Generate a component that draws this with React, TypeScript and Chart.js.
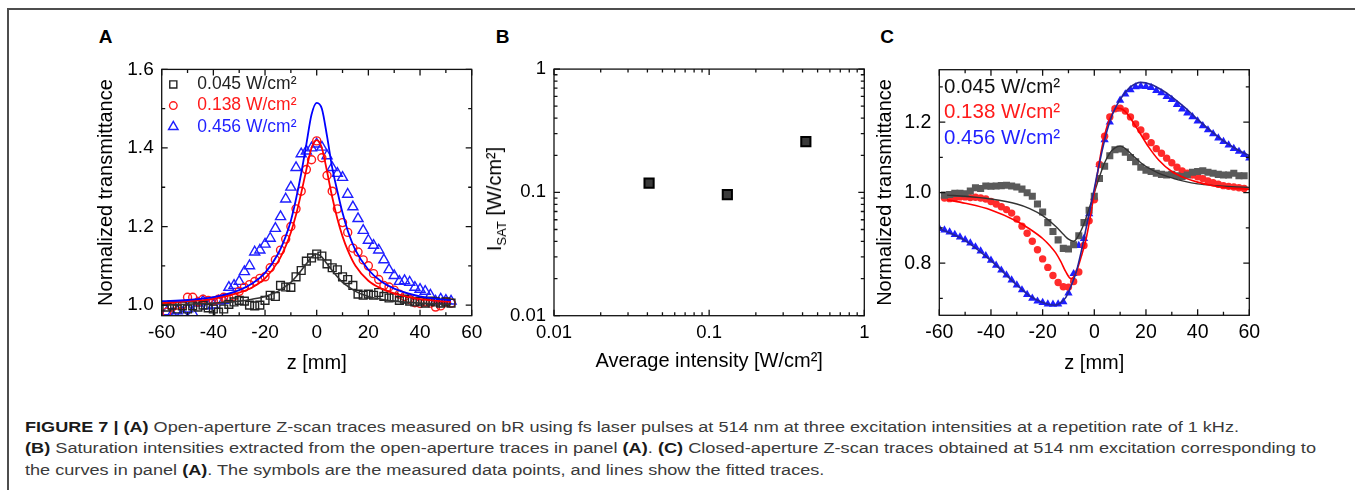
import React, { useEffect, useLayoutEffect, useRef } from "react";
import { Chart, registerables } from "chart.js";

Chart.register(...registerables);

const FONT = "'Liberation Sans', Arial, Helvetica, sans-serif";

// ---------------- Panel A : open-aperture ----------------
const A_LEGEND = ["0.045 W/cm²", "0.138 W/cm²", "0.456 W/cm²"];
const A_X_TICKS = [-60, -40, -20, 0, 20, 40, 60];
const A_X_MINOR = [-50, -30, -10, 10, 30, 50];
const A_Y_TICKS = [1.0, 1.2, 1.4, 1.6];
const A_Y_MINOR = [1.1, 1.3, 1.5];
const A_Z = [-58, -56, -54, -52, -50, -48, -46, -44, -42, -40, -38, -36, -34, -32, -30, -28, -26, -24, -22, -20, -18, -16, -14, -12, -10, -8, -6, -4, -2, 0, 2, 4, 6, 8, 10, 12, 14, 16, 18, 20, 22, 24, 26, 28, 30, 32, 34, 36, 38, 40, 42, 44, 46, 48, 50, 52];
const A_BLACK = [0.995, 1.0, 0.99, 0.998, 0.99, 0.998, 0.995, 1.0, 0.993, 0.99, 0.982, 0.99, 1.002, 1.008, 1.012, 1.01, 1.0, 0.998, 1.0, 1.012, 1.025, 1.022, 1.05, 1.046, 1.045, 1.072, 1.088, 1.112, 1.12, 1.13, 1.125, 1.105, 1.095, 1.09, 1.072, 1.065, 1.05, 1.028, 1.025, 1.028, 1.025, 1.032, 1.022, 1.018, 1.02, 1.012, 1.015, 1.01, 1.008, 1.01, 1.005, 1.01, 1.008, 1.005, 1.008, 1.005];
const A_RED = [0.982, 0.995, 1.0, 1.0, 1.02, 1.02, 1.008, 1.015, 1.012, 1.01, 1.015, 1.02, 1.018, 1.022, 1.035, 1.045, 1.052, 1.06, 1.068, 1.072, 1.095, 1.115, 1.14, 1.168, 1.2, 1.245, 1.29, 1.345, 1.37, 1.418, 1.375, 1.33, 1.29, 1.245, 1.21, 1.185, 1.145, 1.135, 1.115, 1.1, 1.08, 1.065, 1.05, 1.046, 1.038, 1.028, 1.022, 1.015, 1.006, 1.004, 1.008, 1.005, 0.995, 0.998, 1.008, 1.005];
const A_BLUE = [0.983, 0.978, 0.985, 0.98, 0.99, 0.98, 1.005, 1.01, 0.998, 1.0, 1.01, 1.012, 1.045, 1.05, 1.06, 1.085, 1.1, 1.135, 1.14, 1.155, 1.17, 1.195, 1.225, 1.27, 1.3, 1.35, 1.385, 1.392, 1.4, 1.41, 1.402, 1.38, 1.35, 1.335, 1.325, 1.282, 1.25, 1.22, 1.19, 1.165, 1.152, 1.14, 1.115, 1.09, 1.075, 1.06, 1.062, 1.058, 1.045, 1.04, 1.035, 1.025, 1.01, 1.015, 1.012, 1.01];
const A_FIT_Z = [-60, -50, -40, -30, -25, -20, -15, -12, -10, -8, -6, -4, -2, 0, 2, 4, 6, 8, 10, 12, 15, 20, 25, 30, 40, 52];
const A_FIT_BLACK = [1.0, 1.002, 1.005, 1.01, 1.015, 1.022, 1.035, 1.048, 1.058, 1.072, 1.088, 1.105, 1.122, 1.13, 1.122, 1.105, 1.088, 1.072, 1.058, 1.048, 1.035, 1.022, 1.015, 1.01, 1.005, 1.002];
const A_FIT_RED = [1.005, 1.01, 1.016, 1.032, 1.045, 1.068, 1.11, 1.15, 1.185, 1.23, 1.285, 1.345, 1.4, 1.42, 1.4, 1.34, 1.275, 1.22, 1.175, 1.14, 1.1, 1.062, 1.042, 1.03, 1.015, 1.008];
const A_FIT_BLUE = [1.01, 1.013, 1.02, 1.038, 1.055, 1.082, 1.13, 1.175, 1.215, 1.27, 1.335, 1.41, 1.485, 1.515, 1.5, 1.43, 1.35, 1.29, 1.235, 1.19, 1.14, 1.09, 1.06, 1.042, 1.022, 1.012];

// ---------------- Panel B : saturation intensities ----------------
const B_TICKS = [0.01, 0.1, 1];
const B_MINOR = [0.02, 0.03, 0.04, 0.05, 0.06, 0.07, 0.08, 0.09, 0.2, 0.3, 0.4, 0.5, 0.6, 0.7, 0.8, 0.9];
const B_INTENSITY = [0.041, 0.131, 0.42];
const B_ISAT = [0.119, 0.096, 0.258];

// ---------------- Panel C : closed-aperture ----------------
const C_LEGEND = ["0.045 W/cm²", "0.138 W/cm²", "0.456 W/cm²"];
const C_X_TICKS = [-60, -40, -20, 0, 20, 40, 60];
const C_X_MINOR = [-50, -30, -10, 10, 30, 50];
const C_Y_TICKS = [0.8, 1.0, 1.2];
const C_Y_MINOR = [0.7, 0.9, 1.1, 1.3];
const C_Z = [-58, -56, -54, -52, -50, -48, -46, -44, -42, -40, -38, -36, -34, -32, -30, -28, -26, -24, -22, -20, -18, -16, -14, -12, -10, -8, -6, -4, -2, 0, 2, 4, 6, 8, 10, 12, 14, 16, 18, 20, 22, 24, 26, 28, 30, 32, 34, 36, 38, 40, 42, 44, 46, 48, 50, 52, 54, 56, 58];
const C_GRAY = [0.993, 0.995, 0.998, 0.998, 0.997, 1.005, 1.014, 1.012, 1.019, 1.018, 1.019, 1.02, 1.021, 1.019, 1.016, 1.01, 1.0, 0.99, 0.968, 0.945, 0.915, 0.89, 0.866, 0.842, 0.84, 0.852, 0.878, 0.915, 0.95, 0.99, 1.04, 1.075, 1.105, 1.122, 1.124, 1.115, 1.1, 1.088, 1.072, 1.064, 1.06, 1.055, 1.052, 1.05, 1.052, 1.048, 1.046, 1.05, 1.058, 1.06, 1.062, 1.058, 1.055, 1.052, 1.05, 1.05, 1.055, 1.048, 1.048];
const C_RED = [0.985, 0.983, 0.985, 0.988, 0.988, 0.986, 0.987, 0.985, 0.982, 0.975, 0.968, 0.96, 0.952, 0.942, 0.925, 0.905, 0.885, 0.862, 0.838, 0.812, 0.788, 0.765, 0.745, 0.733, 0.732, 0.748, 0.775, 0.85, 0.92, 0.98, 1.08, 1.16, 1.215, 1.238, 1.24, 1.232, 1.215, 1.195, 1.178, 1.16, 1.142, 1.125, 1.112, 1.098, 1.085, 1.072, 1.062, 1.055, 1.05, 1.045, 1.04, 1.033, 1.028, 1.024, 1.02, 1.018, 1.016, 1.014, 1.012];
const C_BZ = [-60, -58, -56, -54, -52, -50, -48, -46, -44, -42, -40, -38, -36, -34, -32, -30, -28, -26, -24, -22, -20, -18, -16, -14, -12, -10, -8, -6, -4, -2, 0, 2, 4, 6, 8, 10, 12, 14, 16, 18, 20, 22, 24, 26, 28, 30, 32, 34, 36, 38, 40, 42, 44, 46, 48, 50, 52, 54, 56, 58, 60];
const C_BLUE = [0.898, 0.894, 0.888, 0.881, 0.874, 0.866, 0.857, 0.846, 0.834, 0.821, 0.808, 0.794, 0.78, 0.766, 0.752, 0.738, 0.724, 0.711, 0.7, 0.692, 0.688, 0.684, 0.683, 0.684, 0.69, 0.715, 0.77, 0.85, 0.87, 0.94, 0.985, 1.08, 1.15, 1.2, 1.237, 1.262, 1.28, 1.292, 1.3, 1.302, 1.301, 1.298, 1.29, 1.283, 1.273, 1.264, 1.25, 1.237, 1.226, 1.215, 1.203, 1.19, 1.178, 1.167, 1.155, 1.145, 1.135, 1.125, 1.117, 1.108, 1.098];
const C_FIT_BLACK_Z = [-57, -50, -40, -30, -25, -20, -15, -12, -10, -8, -6, -4, -2, 0, 2, 4, 6, 8, 10, 12, 15, 18, 21, 25, 30, 35, 40, 47, 53, 60];
const C_FIT_BLACK = [0.993, 0.99, 0.982, 0.968, 0.955, 0.935, 0.905, 0.882, 0.868, 0.862, 0.88, 0.912, 0.955, 1.0, 1.045, 1.085, 1.112, 1.127, 1.132, 1.125, 1.105, 1.085, 1.07, 1.055, 1.042, 1.032, 1.025, 1.02, 1.017, 1.015];
const C_FIT_RED_Z = [-57, -50, -40, -30, -25, -20, -17, -15, -13, -11, -9, -7, -5, -3, -1, 1, 3, 5, 7, 9, 11, 13, 15, 18, 21, 25, 30, 35, 40, 47, 53, 60];
const C_FIT_RED = [0.98, 0.97, 0.951, 0.919, 0.897, 0.87, 0.848, 0.83, 0.805, 0.775, 0.756, 0.775, 0.82, 0.875, 0.955, 1.045, 1.13, 1.19, 1.225, 1.24, 1.236, 1.222, 1.2, 1.165, 1.13, 1.092, 1.06, 1.042, 1.03, 1.018, 1.013, 1.01];
const C_FIT_BLUE_Z = [-60, -50, -40, -30, -25, -20, -17, -15, -13, -11, -9, -7, -5, -3, -1, 1, 3, 5, 7, 9, 11, 14, 18, 22, 26, 30, 35, 40, 45, 50, 55, 60];
const C_FIT_BLUE = [0.898, 0.864, 0.807, 0.738, 0.707, 0.688, 0.682, 0.681, 0.688, 0.703, 0.735, 0.775, 0.835, 0.905, 0.975, 1.048, 1.118, 1.178, 1.222, 1.252, 1.275, 1.3, 1.313, 1.307, 1.292, 1.272, 1.242, 1.208, 1.176, 1.147, 1.124, 1.105];

// ---------------- helpers ----------------
type Box = { left: number; top: number; width: number; height: number };
type Area = { left: number; top: number; right: number; bottom: number };

const pts = (xs: number[], ys: number[]) => xs.map((x, i) => ({ x, y: ys[i] }));

function drawMarker(ctx: CanvasRenderingContext2D, style: string, x: number, y: number, r: number) {
  ctx.beginPath();
  if (style === "rect") {
    const s = r * Math.SQRT1_2;
    ctx.rect(x - s, y - s, 2 * s, 2 * s);
  } else if (style === "circle") {
    ctx.arc(x, y, r, 0, Math.PI * 2);
  } else {
    let a = 0;
    ctx.moveTo(x + Math.sin(a) * r, y - Math.cos(a) * r);
    a += (2 * Math.PI) / 3;
    ctx.lineTo(x + Math.sin(a) * r, y - Math.cos(a) * r);
    a += (2 * Math.PI) / 3;
    ctx.lineTo(x + Math.sin(a) * r, y - Math.cos(a) * r);
    ctx.closePath();
  }
}

function framePlugin(xMinor: number[], yMinor: number[]) {
  return {
    id: "frameTicks",
    afterDraw(chart: any) {
      const { ctx, chartArea: a, scales } = chart;
      const xs = scales.x;
      const ys = scales.y;
      ctx.save();
      ctx.strokeStyle = "#111";
      ctx.lineWidth = 1.3;
      ctx.beginPath();
      const xt = (v: number, len: number) => {
        const p = xs.getPixelForValue(v);
        ctx.moveTo(p, a.bottom);
        ctx.lineTo(p, a.bottom - len);
        ctx.moveTo(p, a.top);
        ctx.lineTo(p, a.top + len);
      };
      const yt = (v: number, len: number) => {
        const p = ys.getPixelForValue(v);
        ctx.moveTo(a.left, p);
        ctx.lineTo(a.left + len, p);
        ctx.moveTo(a.right, p);
        ctx.lineTo(a.right - len, p);
      };
      xs.ticks.forEach((t: any) => xt(t.value, 6));
      xMinor.forEach((v) => xt(v, 3.5));
      ys.ticks.forEach((t: any) => yt(t.value, 6));
      yMinor.forEach((v) => yt(v, 3.5));
      ctx.stroke();
      ctx.strokeRect(a.left, a.top, a.right - a.left, a.bottom - a.top);
      ctx.restore();
    },
  };
}

type LegendItem = { label: string; color: string; marker?: string; r?: number };
function legendPlugin(items: LegendItem[], o: { mx: number; tx: number; y0: number; dy: number; size: number }) {
  return {
    id: "inLegend",
    afterDraw(chart: any) {
      const { ctx, chartArea: a } = chart;
      ctx.save();
      ctx.font = `${o.size}px ${FONT}`;
      ctx.textBaseline = "middle";
      ctx.textAlign = "left";
      items.forEach((it, i) => {
        const y = a.top + o.y0 + i * o.dy;
        if (it.marker) {
          ctx.strokeStyle = it.color;
          ctx.lineWidth = 1.4;
          drawMarker(ctx, it.marker, a.left + o.mx, y, it.r || 4);
          ctx.stroke();
        }
        ctx.fillStyle = it.color;
        ctx.fillText(it.label, a.left + o.tx, y);
      });
      ctx.restore();
    },
  };
}

function axis(o: {
  axis: "x" | "y";
  type: "linear" | "logarithmic";
  min: number;
  max: number;
  ticks: number[];
  fmt: (v: number) => string;
  title?: string;
  titlePad?: number;
  size: number;
  fit: number;
  pad: number;
}) {
  return {
    type: o.type,
    position: o.axis === "x" ? "bottom" : "left",
    min: o.min,
    max: o.max,
    afterBuildTicks: (s: any) => {
      s.ticks = o.ticks.map((v) => ({ value: v }));
    },
    afterFit: (s: any) => {
      if (o.axis === "x") s.height = o.fit;
      else s.width = o.fit;
    },
    grid: { display: false, drawTicks: false },
    border: { display: false },
    ticks: {
      autoSkip: false,
      maxRotation: 0,
      minRotation: 0,
      padding: o.pad,
      color: "#000",
      font: { family: FONT, size: o.size },
      callback: (v: any) => o.fmt(Number(v)),
    },
    title: o.title
      ? {
          display: true,
          text: o.title,
          color: "#000",
          font: { family: FONT, size: 20 },
          padding: o.axis === "x" ? { top: 0, bottom: o.titlePad } : { top: o.titlePad, bottom: 0 },
        }
      : { display: false },
  };
}

function baseOptions(box: Box, area: Area, scales: any) {
  return {
    responsive: false,
    animation: false,
    devicePixelRatio: 1,
    events: [],
    layout: {
      padding: { left: 0, top: area.top - box.top, right: box.left + box.width - area.right, bottom: 0 },
    },
    plugins: { legend: { display: false }, tooltip: { enabled: false } },
    scales,
  };
}

const lineDs = (xs: number[], ys: number[], color: string, w = 1.6) => ({
  data: pts(xs, ys),
  showLine: true,
  borderColor: color,
  borderWidth: w,
  pointRadius: 0,
  cubicInterpolationMode: "monotone",
  fill: false,
});

const markDs = (xs: number[], ys: number[], style: string, r: number, stroke: string, fill: string, bw = 1.4) => ({
  data: pts(xs, ys),
  showLine: false,
  pointStyle: style,
  pointRadius: r,
  pointBorderColor: stroke,
  pointBackgroundColor: fill,
  pointBorderWidth: bw,
});

// ---------------- panel geometry ----------------
const BOX_A: Box = { left: 90, top: 50, width: 400, height: 330 };
const AREA_A: Area = { left: 161.7, top: 66.7, right: 471.7, bottom: 315.7 };
const BOX_B: Box = { left: 480, top: 50, width: 400, height: 330 };
const AREA_B: Area = { left: 554, top: 66.7, right: 864.3, bottom: 315.7 };
const BOX_C: Box = { left: 865, top: 50, width: 410, height: 330 };
const AREA_C: Area = { left: 939.3, top: 66, right: 1249.3, bottom: 315.3 };

const A_COLORS = ["#222222", "#ff1a1a", "#1f1fff"];

function configA() {
  const datasets = [
    lineDs(A_FIT_Z, A_FIT_BLUE, "#0000ff", 1.8),
    lineDs(A_FIT_Z, A_FIT_RED, "#ff0000", 1.8),
    lineDs(A_FIT_Z, A_FIT_BLACK, "#333333", 1.6),
    markDs(A_Z, A_BLACK, "rect", 5.5, A_COLORS[0], "rgba(0,0,0,0)"),
    markDs(A_Z, A_RED, "circle", 4, A_COLORS[1], "rgba(0,0,0,0)"),
    markDs(A_Z, A_BLUE, "triangle", 5.8, A_COLORS[2], "rgba(0,0,0,0)"),
  ];
  const scales = {
    x: axis({ axis: "x", type: "linear", min: -60, max: 60, ticks: A_X_TICKS, fmt: (v) => String(v), title: "z [mm]", titlePad: 4.7, size: 19, fit: BOX_A.top + BOX_A.height - AREA_A.bottom, pad: 6 }),
    y: axis({ axis: "y", type: "linear", min: 0.973, max: 1.6, ticks: A_Y_TICKS, fmt: (v) => v.toFixed(1), title: "Normalized transmittance", titlePad: 4.7, size: 19, fit: AREA_A.left - BOX_A.left, pad: 8 }),
  };
  return {
    type: "scatter",
    data: { datasets },
    options: baseOptions(BOX_A, AREA_A, scales),
    plugins: [
      framePlugin(A_X_MINOR, A_Y_MINOR),
      legendPlugin(
        [
          { label: A_LEGEND[0], color: A_COLORS[0], marker: "rect", r: 5 },
          { label: A_LEGEND[1], color: A_COLORS[1], marker: "circle", r: 3.8 },
          { label: A_LEGEND[2], color: A_COLORS[2], marker: "triangle", r: 5.5 },
        ],
        { mx: 11.6, tx: 35.6, y0: 15, dy: 21.2, size: 17.5 }
      ),
    ],
  };
}

function configB() {
  const datasets = [markDs(B_INTENSITY, B_ISAT, "rect", 6.5, "#000000", "#3a3a3a", 2)];
  const scales = {
    x: axis({ axis: "x", type: "logarithmic", min: 0.01, max: 1, ticks: B_TICKS, fmt: (v) => String(v), title: "Average intensity [W/cm²]", titlePad: 6.3, size: 18.5, fit: BOX_B.top + BOX_B.height - AREA_B.bottom, pad: 6 }),
    y: axis({ axis: "y", type: "logarithmic", min: 0.01, max: 1, ticks: B_TICKS, fmt: (v) => String(v), size: 18.5, fit: AREA_B.left - BOX_B.left, pad: 8 }),
  };
  return {
    type: "scatter",
    data: { datasets },
    options: baseOptions(BOX_B, AREA_B, scales),
    plugins: [framePlugin(B_MINOR, B_MINOR)],
  };
}

function configC() {
  const datasets = [
    lineDs(C_FIT_BLUE_Z, C_FIT_BLUE, "#24249a", 1.6),
    lineDs(C_FIT_RED_Z, C_FIT_RED, "#ff0000", 1.6),
    lineDs(C_FIT_BLACK_Z, C_FIT_BLACK, "#333333", 1.4),
    markDs(C_Z, C_GRAY, "rect", 5, "#5a5a5a", "#5a5a5a", 0),
    markDs(C_Z, C_RED, "circle", 3.7, "#ff2b2b", "#ff2b2b", 0),
    markDs(C_BZ, C_BLUE, "triangle", 4.8, "#1e1eff", "#1e1eff", 0),
  ];
  const scales = {
    x: axis({ axis: "x", type: "linear", min: -60, max: 60, ticks: C_X_TICKS, fmt: (v) => String(v), title: "z [mm]", titlePad: 4.7, size: 19.5, fit: BOX_C.top + BOX_C.height - AREA_C.bottom, pad: 6 }),
    y: axis({ axis: "y", type: "linear", min: 0.652, max: 1.349, ticks: C_Y_TICKS, fmt: (v) => v.toFixed(1), title: "Normalized transmittance", titlePad: 8, size: 19.5, fit: AREA_C.left - BOX_C.left, pad: 8 }),
  };
  return {
    type: "scatter",
    data: { datasets },
    options: baseOptions(BOX_C, AREA_C, scales),
    plugins: [
      framePlugin(C_X_MINOR, C_Y_MINOR),
      legendPlugin(
        [
          { label: C_LEGEND[0], color: "#111111" },
          { label: C_LEGEND[1], color: "#ff1a1a" },
          { label: C_LEGEND[2], color: "#1f1fff" },
        ],
        { mx: 0, tx: 4.7, y0: 17.3, dy: 25.5, size: 20.5 }
      ),
    ],
  };
}

function ChartCanvas({ box, make }: { box: Box; make: () => any }) {
  const ref = useRef<HTMLCanvasElement>(null);
  useEffect(() => {
    if (!ref.current) return;
    const chart = new Chart(ref.current, make());
    return () => chart.destroy();
  }, []);
  return (
    <canvas
      ref={ref}
      width={box.width}
      height={box.height}
      style={{ position: "absolute", left: box.left, top: box.top, width: box.width, height: box.height }}
    />
  );
}

const CAPTION_TARGETS = [1214, 1291];

function Caption() {
  const r1 = useRef<HTMLDivElement>(null);
  const r2 = useRef<HTMLDivElement>(null);
  const r3 = useRef<HTMLDivElement>(null);
  useLayoutEffect(() => {
    const els = [r1.current, r2.current, r3.current];
    if (els.some((e) => !e)) return;
    const ks: number[] = [];
    [0, 1].forEach((i) => {
      const el = els[i]!;
      el.style.transform = "none";
      const w = el.getBoundingClientRect().width;
      const k = w > 0 ? CAPTION_TARGETS[i] / w : 1;
      ks.push(k);
      el.style.transform = `scaleX(${k})`;
    });
    const el3 = els[2]!;
    el3.style.transform = `scaleX(${(ks[0] + ks[1]) / 2})`;
  }, []);
  const lineStyle = (top: number): React.CSSProperties => ({
    position: "absolute",
    left: 25,
    top,
    whiteSpace: "nowrap",
    fontFamily: FONT,
    fontSize: 15.5,
    lineHeight: "20px",
    color: "#3a3a3a",
    transformOrigin: "left center",
    display: "inline-block",
  });
  const b = { color: "#1a1a1a" };
  return (
    <>
      <div ref={r1} style={lineStyle(416.7)}>
        <b style={b}>FIGURE 7 | (A)</b> Open-aperture Z-scan traces measured on bR using fs laser pulses at 514 nm at three excitation intensities at a repetition rate of 1 kHz.
      </div>
      <div ref={r2} style={lineStyle(438.3)}>
        <b style={b}>(B)</b> Saturation intensities extracted from the open-aperture traces in panel <b style={b}>(A)</b>. <b style={b}>(C)</b> Closed-aperture Z-scan traces obtained at 514 nm excitation corresponding to
      </div>
      <div ref={r3} style={lineStyle(460)}>
        the curves in panel <b style={b}>(A)</b>. The symbols are the measured data points, and lines show the fitted traces.
      </div>
    </>
  );
}

const panelLabel = (text: string, cx: number): React.CSSProperties => ({
  position: "absolute",
  left: cx - 10,
  top: 26,
  width: 20,
  textAlign: "center",
  fontFamily: FONT,
  fontWeight: "bold",
  fontSize: 19,
  lineHeight: "22px",
  color: "#000",
});

export default function App() {
  return (
    <div
      style={{
        position: "absolute",
        left: 0,
        top: 0,
        width: 1355,
        height: 490,
        background: "#fff",
        overflow: "hidden",
      }}
    >
      <div
        style={{
          position: "absolute",
          left: 7,
          top: 8,
          width: 1360,
          height: 490,
          borderTop: "2px solid #4d4d4d",
          borderLeft: "2px solid #4d4d4d",
          boxSizing: "border-box",
        }}
      />
      <div style={panelLabel("A", 105.5)}>A</div>
      <div style={panelLabel("B", 502.5)}>B</div>
      <div style={panelLabel("C", 887)}>C</div>
      <ChartCanvas box={BOX_A} make={configA} />
      <ChartCanvas box={BOX_B} make={configB} />
      <ChartCanvas box={BOX_C} make={configC} />
      <div
        style={{
          position: "absolute",
          left: 498,
          top: 199,
          transform: "translate(-50%, -50%) rotate(-90deg)",
          whiteSpace: "nowrap",
          fontFamily: FONT,
          fontSize: 20,
          lineHeight: "24px",
          color: "#000",
        }}
      >
        I<span style={{ fontSize: 13, verticalAlign: -5 }}>SAT</span> [W/cm²]
      </div>
      <Caption />
    </div>
  );
}
